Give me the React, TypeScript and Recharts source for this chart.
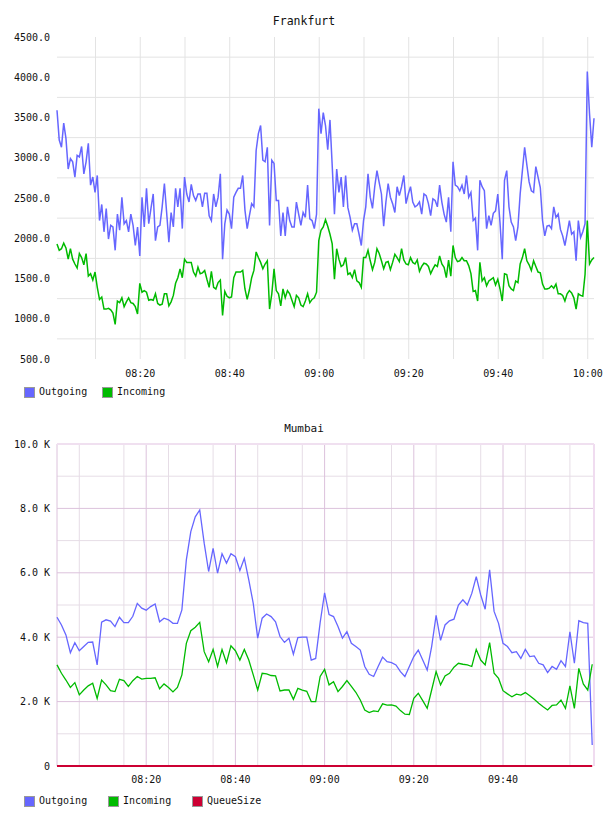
import React from 'react';
import { LineChart, Line, XAxis, YAxis, CartesianGrid, ReferenceLine } from 'recharts';

// ---- Frankfurt: samples every 30 s starting 08:01:24 (minutes after 08:00) ----
const FRA_START_MIN = 1.4;
const FRA_STEP_MIN = 0.5;

const FRA_OUT = [
  3590, 3220, 3130, 3430, 3240, 2860, 2990, 2950, 2760, 3030,
  3010, 3140, 2800, 2950, 3180, 2660, 2760, 2570, 2780, 2220,
  2420, 2080, 2370, 1990, 2160, 2140, 1850, 2300, 2100, 2510,
  2180, 2220, 2080, 2300, 2160, 1910, 2140, 1780, 2510, 2140,
  2620, 2180, 2370, 2550, 1970, 2140, 2160, 2390, 2680, 2320,
  1950, 2320, 2140, 2620, 2390, 2620, 2120, 2760, 2550, 2450,
  2670, 2530, 2470, 2550, 2550, 2390, 2560, 2560, 2280, 2220,
  2550, 2390, 2510, 2800, 1740, 2180, 2350, 2300, 2120, 2510,
  2570, 2620, 2620, 2780, 2350, 2120, 2280, 2430, 2390, 3090,
  3300, 3400, 2970, 2950, 3130, 2160, 2970, 2930, 2470, 2470,
  2030, 2320, 2030, 2390, 2220, 2140, 2140, 2450, 2300, 2160,
  2320, 2260, 2660, 2240, 2220, 2120, 2300, 3610, 3300, 3560,
  3400, 3100, 3470, 2900, 2300, 2860, 2570, 2760, 2390, 2780,
  2380, 2260, 2100, 2180, 2180, 2050, 1910, 2220, 2390, 2800,
  2510, 2370, 2640, 2840, 2690, 2550, 2150, 2450, 2680, 2510,
  2430, 2320, 2640, 2530, 2640, 2780, 2430, 2550, 2640, 2450,
  2390, 2410, 2450, 2300, 2550, 2530, 2430, 2280, 2490, 2470,
  2390, 2660, 2450, 2300, 2200, 2510, 2080, 2950, 2660, 2640,
  2590, 2660, 2550, 2780, 2510, 2570, 2220, 2250, 1850, 2720,
  2640, 2590, 2120, 2280, 2160, 2310, 2340, 2550, 2190, 1740,
  2720, 2840, 2390, 2200, 2140, 1970, 2140, 2550, 2840, 3130,
  2910, 2700, 2590, 2570, 2890, 2760, 2630, 2220, 2030, 2150,
  2160, 2120, 2390, 2260, 2300, 2110, 2030, 1910, 2060, 2220,
  2050, 2080, 1720, 2220, 2010, 2080, 2180, 4070, 3550, 3130,
  3490,
];

const FRA_IN = [
  1930, 1850, 1870, 1940, 1880, 1740, 1870, 1740, 1680, 1630,
  1810, 1760, 1670, 1810, 1530, 1560, 1480, 1580, 1390, 1240,
  1270, 1120, 1120, 1130, 1110, 1070, 930, 1220, 1200, 1260,
  1150, 1210, 1260, 1200, 1190, 1150, 1060, 1440, 1330, 1350,
  1330, 1230, 1240, 1230, 1310, 1190, 1170, 1180, 1310, 1310,
  1160, 1210, 1290, 1440, 1510, 1620, 1510, 1740, 1700, 1700,
  1700, 1580, 1530, 1640, 1560, 1570, 1600, 1490, 1390, 1590,
  1390, 1370, 1450, 1480, 1040, 1340, 1280, 1260, 1270, 1510,
  1580, 1580, 1580, 1600, 1370, 1240, 1360, 1510, 1600, 1830,
  1760, 1700, 1620, 1680, 1720, 1120, 1310, 1620, 1350, 1310,
  1160, 1370, 1260, 1350, 1310, 1230, 1150, 1290, 1260, 1170,
  1150, 1220, 1310, 1200, 1240, 1260, 1330, 1970, 2100, 2140,
  2230, 2150, 2050, 1930, 1490, 1870, 1740, 1650, 1670, 1760,
  1550, 1570, 1510, 1610, 1470, 1450, 1390, 1760, 1760, 1850,
  1720, 1610, 1700, 1870, 1810, 1720, 1620, 1700, 1710, 1610,
  1700, 1800, 1760, 1710, 1870, 1730, 1680, 1670, 1760, 1700,
  1680, 1730, 1590, 1650, 1690, 1680, 1650, 1560, 1620, 1670,
  1650, 1780, 1680, 1640, 1510, 1730, 1530, 1910, 1760, 1710,
  1720, 1760, 1720, 1720, 1660, 1560, 1340, 1350, 1220, 1700,
  1470, 1510, 1410, 1470, 1490, 1510, 1420, 1490, 1370, 1220,
  1560, 1550, 1410, 1370, 1350, 1470, 1450, 1680, 1760, 1870,
  1720, 1670, 1600, 1720, 1650, 1580, 1570, 1430, 1370, 1370,
  1380, 1410, 1380, 1430, 1310, 1310, 1290, 1220, 1310, 1350,
  1320, 1260, 1120, 1310, 1290, 1280, 1550, 2220, 1680, 1730,
  1760,
];

// ---- Mumbai: samples every minute starting 08:00 ----
const MUM_START_MIN = 0;
const MUM_STEP_MIN = 1;

const MUM_OUT = [
  4620, 4380, 4070, 3520, 3830, 3580, 3710, 3840, 3850, 3140,
  4470, 4540, 4500, 4330, 4620, 4450, 4450, 4650, 5050, 4900,
  4840, 4950, 5030, 4480, 4590, 4540, 4430, 4430, 4850, 6400,
  7280, 7740, 7950, 6920, 6040, 6760, 5990, 6590, 6300, 6590,
  6500, 6070, 6450, 5780, 5050, 3970, 4590, 4720, 4640, 4480,
  4020, 3840, 3970, 3470, 3990, 4000, 4000, 3290, 3340, 4450,
  5380, 4700, 4640, 4330, 3970, 4170, 3810, 3710, 3600, 3090,
  2850, 2780, 3090, 3380, 3240, 3210, 3140, 2930, 2780, 3090,
  3400, 3600, 3290, 2980, 3710, 4680, 3900, 4380, 4510, 4560,
  5000, 5160, 5000, 5360, 5880, 5310, 4870, 6090, 4800, 4430,
  3810, 3710, 3520, 3550, 3340, 3620, 3400, 3420, 3190, 3140,
  2900, 3090, 3000, 3270, 3090, 4170, 3190, 4510, 4450, 4430,
  650,
];

const MUM_IN = [
  3140, 2880, 2670, 2440, 2590, 2210, 2360, 2490, 2570, 2100,
  2670, 2520, 2340, 2310, 2690, 2650, 2470, 2650, 2780, 2700,
  2720, 2720, 2740, 2400, 2550, 2440, 2300, 2440, 2830, 3810,
  4200, 4310, 4460, 3550, 3240, 3620, 3090, 3620, 3210, 3730,
  3580, 3290, 3620, 3290, 2830, 2360, 2880, 2860, 2810, 2800,
  2330, 2360, 2360, 2070, 2410, 2360, 2320, 2000, 2000, 2780,
  3000, 2520, 2620, 2310, 2470, 2650, 2470, 2290, 2050, 1740,
  1660, 1710, 1690, 1930, 1890, 1900, 1860, 1720, 1610, 1600,
  2100, 2260, 2030, 1790, 2360, 2930, 2520, 2800, 2880, 3070,
  3190, 3160, 3140, 3090, 3620, 3290, 3140, 3830, 2880, 2720,
  2340, 2240, 2150, 2230, 2200, 2280, 2180, 2070, 1950, 1840,
  1740, 1880, 1900, 2050, 1790, 2490, 1790, 3030, 2550, 2360,
  3160,
];

const MUM_QUEUE = [
  0, 0, 0, 0, 0, 0, 0, 0, 0, 0,
  0, 0, 0, 0, 0, 0, 0, 0, 0, 0,
  0, 0, 0, 0, 0, 0, 0, 0, 0, 0,
  0, 0, 0, 0, 0, 0, 0, 0, 0, 0,
  0, 0, 0, 0, 0, 0, 0, 0, 0, 0,
  0, 0, 0, 0, 0, 0, 0, 0, 0, 0,
  0, 0, 0, 0, 0, 0, 0, 0, 0, 0,
  0, 0, 0, 0, 0, 0, 0, 0, 0, 0,
  0, 0, 0, 0, 0, 0, 0, 0, 0, 0,
  0, 0, 0, 0, 0, 0, 0, 0, 0, 0,
  0, 0, 0, 0, 0, 0, 0, 0, 0, 0,
  0, 0, 0, 0, 0, 0, 0, 0, 0, 0,
  0,
];

// ---- axes / ticks ----
const FRA_Y_TICKS = [500, 1000, 1500, 2000, 2500, 3000, 3500, 4000, 4500];
const FRA_Y_GRID = [750, 1250, 1750, 2250, 2750, 3250, 3750, 4250];
const FRA_X_TICKS = [20, 40, 60, 80, 100, 120];
const FRA_X_GRID = [5, 10, 15, 20, 25, 30, 35, 40, 45, 50, 55, 60, 65, 70, 75, 80, 85, 90, 95, 100, 105, 110, 115, 120];

const MUM_Y_TICKS = [0, 2000, 4000, 6000, 8000, 10000];
const MUM_Y_MAJOR = [2000, 4000, 6000, 8000, 10000];
const MUM_Y_MINOR = [1000, 3000, 5000, 7000, 9000];
const MUM_X_TICKS = [20, 40, 60, 80, 100];
const MUM_X_MAJOR = [0, 20, 40, 60, 80, 100];
const MUM_X_MINOR = [5, 10, 15, 25, 30, 35, 45, 50, 55, 65, 70, 75, 85, 90, 95, 105, 110, 115];

const C_OUT = '#6666ff';
const C_IN = '#00bb00';
const C_Q = '#cc0033';
const FONT = "'DejaVu Sans Mono', monospace";

const pad = (n: number) => (n < 10 ? '0' + n : '' + n);
const fmtTime = (t: number) => {
  const tot = Math.round(t);
  return pad(8 + Math.floor(tot / 60)) + ':' + pad(tot % 60);
};

const fraData = FRA_OUT.map((v, i) => ({ t: FRA_START_MIN + FRA_STEP_MIN * i, out: v, inc: FRA_IN[i] }));
const mumData = MUM_OUT.map((v, i) => ({ t: MUM_START_MIN + MUM_STEP_MIN * i, out: v, inc: MUM_IN[i], q: MUM_QUEUE[i] }));

const tickStyle = { fontFamily: FONT, fontSize: 10, fill: '#111' };

const LegendItem = ({ x, y, color, label }: { x: number; y: number; color: string; label: string }) => (
  <>
    <div style={{ position: 'absolute', left: x, top: y, width: 9, height: 9, background: color, border: '1px solid #999' }} />
    <div style={{ position: 'absolute', left: x + 15, top: y - 1, fontFamily: FONT, fontSize: 10, lineHeight: '12px', color: '#111', whiteSpace: 'nowrap' }}>{label}</div>
  </>
);

const Title = ({ y, text, size }: { y: number; text: string; size: number }) => (
  <div style={{ position: 'absolute', left: 0, width: 608, top: y, textAlign: 'center', fontFamily: FONT, fontSize: size, lineHeight: '14px', color: '#111' }}>{text}</div>
);

export default function App() {
  return (
    <div style={{ position: 'absolute', left: 0, top: 0, width: 608, height: 816, background: '#fff', overflow: 'hidden' }}>
      <Title y={14} text="Frankfurt" size={11.5} />
      <div style={{ position: 'absolute', left: 0, top: 0 }}>
        <LineChart width={608} height={405} data={fraData} margin={{ top: 37, right: 14, bottom: 26, left: 0 }}>
          <CartesianGrid stroke="#e3e3e3" strokeWidth={1} horizontalValues={FRA_Y_GRID} verticalValues={FRA_X_GRID} />
          <XAxis dataKey="t" type="number" domain={[1.4, 121.4]} ticks={FRA_X_TICKS} tickFormatter={fmtTime}
            axisLine={false} tickLine={false} tick={tickStyle} height={20} tickMargin={5} />
          <YAxis type="number" domain={[500, 4500]} ticks={FRA_Y_TICKS} tickFormatter={(v: number) => v.toFixed(1)}
            axisLine={false} tickLine={false} tick={tickStyle} width={57} tickMargin={1} />
          <Line dataKey="out" stroke={C_OUT} strokeWidth={1.5} dot={false} isAnimationActive={false} type="linear" />
          <Line dataKey="inc" stroke={C_IN} strokeWidth={1.5} dot={false} isAnimationActive={false} type="linear" />
        </LineChart>
      </div>
      <LegendItem x={24} y={387} color={C_OUT} label="Outgoing" />
      <LegendItem x={102} y={387} color={C_IN} label="Incoming" />

      <Title y={422} text="Mumbai" size={11} />
      <div style={{ position: 'absolute', left: 0, top: 405 }}>
        <LineChart width={608} height={411} data={mumData} margin={{ top: 39, right: 14, bottom: 30, left: 0 }}>
          <CartesianGrid stroke="#e6dde6" strokeWidth={1} horizontalValues={MUM_Y_MINOR} verticalValues={MUM_X_MINOR} />
          <CartesianGrid stroke="#dcc2dc" strokeWidth={1} horizontalValues={MUM_Y_MAJOR} verticalValues={MUM_X_MAJOR} />
          <ReferenceLine x={120.4} stroke="#f0dcf0" strokeWidth={2} />
          <ReferenceLine y={10000} stroke="#f0e0f0" strokeWidth={2} />
          <XAxis dataKey="t" type="number" domain={[0, 120.4]} ticks={MUM_X_TICKS} tickFormatter={fmtTime}
            axisLine={false} tickLine={false} tick={tickStyle} height={20} tickMargin={4} />
          <YAxis type="number" domain={[0, 10000]} ticks={MUM_Y_TICKS}
            tickFormatter={(v: number) => (v === 0 ? '0' : (v / 1000).toFixed(1) + ' K')}
            axisLine={false} tickLine={false} tick={tickStyle} width={57} tickMargin={1} />
          <Line dataKey="out" stroke={C_OUT} strokeWidth={1.3} dot={false} isAnimationActive={false} type="linear" />
          <Line dataKey="inc" stroke={C_IN} strokeWidth={1.3} dot={false} isAnimationActive={false} type="linear" />
          <Line dataKey="q" stroke={C_Q} strokeWidth={2} dot={false} isAnimationActive={false} type="linear" />
        </LineChart>
      </div>
      <LegendItem x={24} y={796} color={C_OUT} label="Outgoing" />
      <LegendItem x={108} y={796} color={C_IN} label="Incoming" />
      <LegendItem x={192} y={796} color={C_Q} label="QueueSize" />
    </div>
  );
}
